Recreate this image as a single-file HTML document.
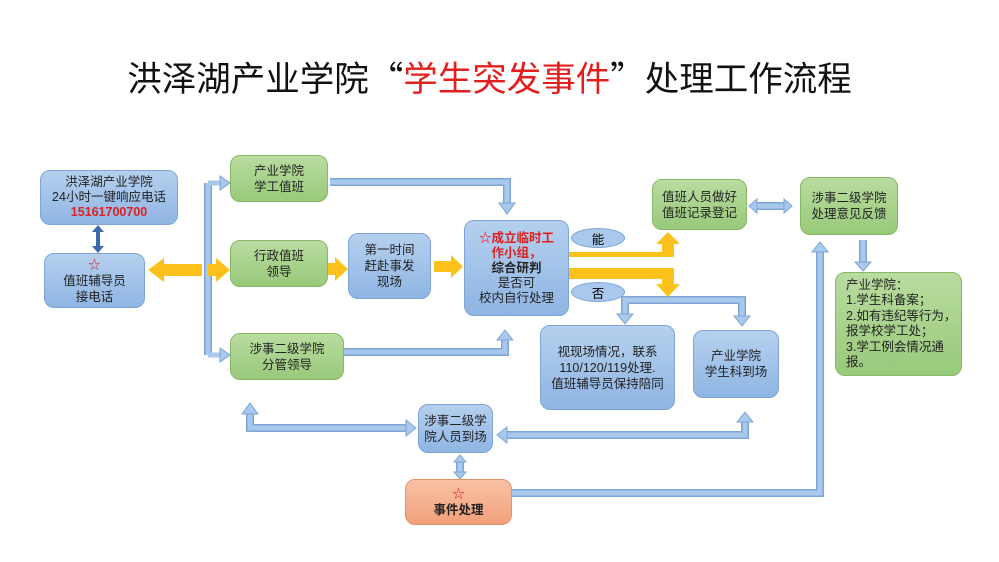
<!DOCTYPE html>
<html><head><meta charset="utf-8"><style>
body{margin:0;width:999px;height:562px;background:#fff;position:relative;overflow:hidden;font-family:"Liberation Sans","Noto Sans CJK SC",sans-serif;}
.b{position:absolute;box-sizing:border-box;border-radius:10px;display:flex;align-items:center;justify-content:center;text-align:center;font-size:12.5px;line-height:16px;color:#222;}
.bl{background:linear-gradient(#b5d0ee,#8fb5e3);border:1px solid #7ea5d6;}
.gr{background:linear-gradient(#b9dca0,#98c97a);border:1px solid #86b866;}
.or{background:linear-gradient(#f8c2a5,#f2a07b);border:1px solid #e8926a;}
.el{position:absolute;box-sizing:border-box;border-radius:50%;background:#a9c8ec;border:1px solid #7ea5d6;font-size:12.5px;display:flex;align-items:center;justify-content:center;}
.r{color:#e31e1e;}
svg{position:absolute;left:0;top:0;}
</style></head><body>
<div style="position:absolute;left:-10px;width:999px;top:54px;text-align:center;font-size:34.5px;line-height:44px;color:#111;font-family:'Noto Sans CJK SC',sans-serif;">洪泽湖产业学院“<span style="color:#e31e1e">学生突发事件</span>”处理工作流程</div>

<svg width="999" height="562">
<g fill="none" stroke-linejoin="miter">
 <g stroke="#7ea5d6" stroke-width="8">
  <path d="M208 183 V355"/>
  <path d="M330 182 H507 V205"/>
  <path d="M344 352 H505 V338"/>
  <path d="M672 300 H625 V316"/>
  <path d="M672 300 H742 V318"/>
  <path d="M863 240 V264"/>
  <path d="M250 412 V428 H408"/>
  <path d="M505 435 H745 V420"/>
  <path d="M512 493 H820 V250"/>
  <path d="M460 460 V474"/>
  <path d="M755 206 H786"/>
 </g>
 <g stroke="#a9c9ec" stroke-width="5">
  <path d="M208 183 V355"/>
  <path d="M330 182 H507 V205"/>
  <path d="M344 352 H505 V338"/>
  <path d="M672 300 H625 V316"/>
  <path d="M672 300 H742 V318"/>
  <path d="M863 240 V264"/>
  <path d="M250 412 V428 H408"/>
  <path d="M505 435 H745 V420"/>
  <path d="M512 493 H820 V250"/>
  <path d="M460 460 V474"/>
  <path d="M755 206 H786"/>
 </g>
 <path d="M208 183 H222 M208 355 H222" stroke="#a9c9ec" stroke-width="5"/>
 <path d="M98 230 V248" stroke="#3c68b0" stroke-width="4"/>
</g>
<g fill="#a9c9ec" stroke="#7ea5d6" stroke-width="1">
 <polygon points="220,176 230,183 220,190"/>
 <polygon points="220,348 230,355 220,362"/>
 <polygon points="499,203 515,203 507,214"/>
 <polygon points="497,340 513,340 505,330"/>
 <polygon points="617,314 633,314 625,324"/>
 <polygon points="734,316 750,316 742,326"/>
 <polygon points="855,262 871,262 863,271"/>
 <polygon points="242,414 258,414 250,403"/>
 <polygon points="406,420 416,428 406,436"/>
 <polygon points="507,427 497,435 507,443"/>
 <polygon points="737,422 753,422 745,412"/>
 <polygon points="812,252 828,252 820,242"/>
 <polygon points="454,462 466,462 460,455"/>
 <polygon points="454,472 466,472 460,479"/>
 <polygon points="757,199 749,206 757,213"/>
 <polygon points="784,199 792,206 784,213"/>
</g>
<g fill="#3c68b0">
 <polygon points="92,232 104,232 98,225"/>
 <polygon points="92,246 104,246 98,253"/>
</g>
<g fill="#fcc21b">
 <rect x="162" y="264" width="40" height="12"/>
 <polygon points="164,258 148,270 164,282"/>
 <rect x="208" y="264" width="10" height="12"/>
 <polygon points="216,258 230,270 216,282"/>
 <rect x="328" y="263" width="8" height="12"/>
 <polygon points="335,257 348,269 335,281"/>
 <rect x="434" y="261" width="18" height="11"/>
 <polygon points="451,255 463,266.5 451,278"/>
 <path d="M569 252 H662 V242 H674 V257 H569 Z"/>
 <polygon points="656,244 680,244 668,232"/>
 <path d="M569 268 H674 V285 H662 V279 H569 Z"/>
 <polygon points="656,284 680,284 668,297"/>
</g>
</svg>

<div class="b bl" style="left:40px;top:170px;width:138px;height:55px;font-size:12.5px;line-height:15px"><div>洪泽湖产业学院<br>24小时一键响应电话<br><b class="r">15161700700</b></div></div>
<div class="b bl" style="left:44px;top:253px;width:101px;height:55px;"><div><span class="r">☆</span><br>值班辅导员<br>接电话</div></div>
<div class="b gr" style="left:230px;top:155px;width:98px;height:47px;"><div>产业学院<br>学工值班</div></div>
<div class="b gr" style="left:230px;top:240px;width:98px;height:47px;"><div>行政值班<br>领导</div></div>
<div class="b gr" style="left:230px;top:333px;width:114px;height:47px;"><div>涉事二级学院<br>分管领导</div></div>
<div class="b bl" style="left:348px;top:233px;width:83px;height:66px;"><div>第一时间<br>赶赴事发<br>现场</div></div>
<div class="b bl" style="left:464px;top:220px;width:105px;height:96px;line-height:15px"><div><b class="r">☆成立临时工<br>作小组，</b><br><b>综合研判</b><br>是否可<br>校内自行处理</div></div>
<div class="el" style="left:571px;top:228px;width:54px;height:20px;">能</div>
<div class="el" style="left:571px;top:282px;width:54px;height:20px;">否</div>
<div class="b gr" style="left:652px;top:179px;width:95px;height:51px;"><div>值班人员做好<br>值班记录登记</div></div>
<div class="b gr" style="left:800px;top:177px;width:98px;height:58px;"><div>涉事二级学院<br>处理意见反馈</div></div>
<div class="b gr" style="left:835px;top:272px;width:127px;height:104px;justify-content:flex-start;text-align:left;padding-left:10px;line-height:15.5px"><div>产业学院：<br>1.学生科备案；<br>2.如有违纪等行为，<br>报学校学工处；<br>3.学工例会情况通<br>报。</div></div>
<div class="b bl" style="left:540px;top:325px;width:135px;height:85px;"><div>视现场情况，联系<br>110/120/119处理.<br>值班辅导员保持陪同</div></div>
<div class="b bl" style="left:693px;top:330px;width:86px;height:68px;"><div>产业学院<br>学生科到场</div></div>
<div class="b bl" style="left:418px;top:404px;width:75px;height:49px;"><div>涉事二级学<br>院人员到场</div></div>
<div class="b or" style="left:405px;top:479px;width:107px;height:46px;"><div><span class="r">☆</span><br><b>事件处理</b></div></div>
</body></html>
